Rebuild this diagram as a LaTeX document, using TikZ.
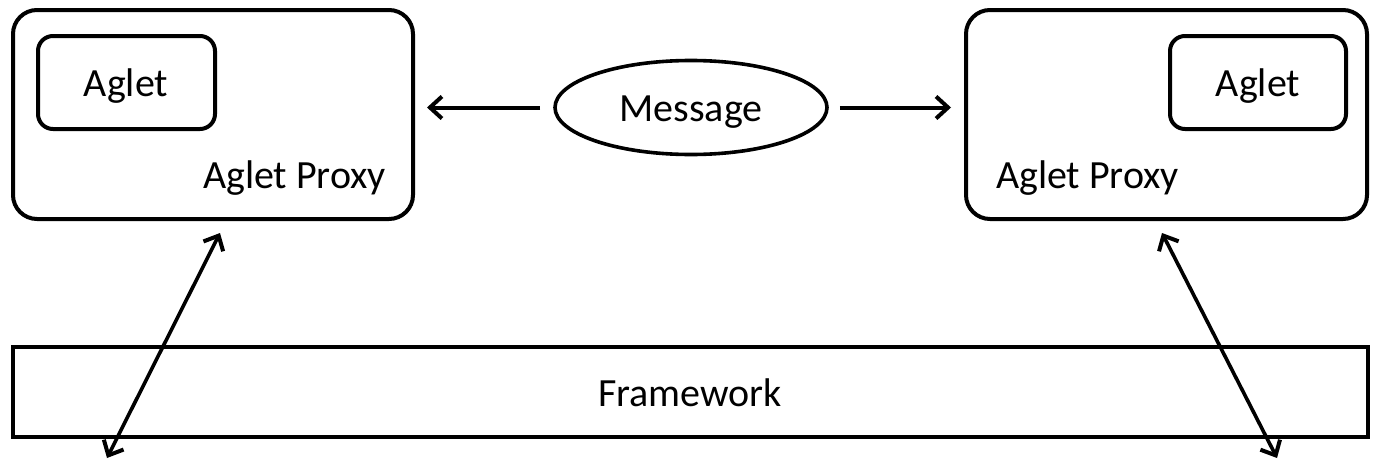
\documentclass[tikz,border=0pt]{standalone}
\usepackage{fontspec}
\setmainfont{Carlito}
\usetikzlibrary{arrows.meta,shapes.geometric}
\begin{document}
\begin{tikzpicture}[x=1pt,y=-1pt,
  box/.style={draw,line width=4pt,rounded corners=24pt,inner sep=0pt},
  inbox/.style={draw,line width=4pt,rounded corners=15pt,inner sep=0pt},
  txt/.style={anchor=base,inner sep=0pt,font=\fontsize{40}{48}\selectfont},
  tip/.tip={Straight Barb[length=12pt,width=22pt,line width=4pt]},
  arr/.style={line width=4pt,-tip},
  darr/.style={line width=3.6pt,tip-tip}]
\useasboundingbox (0,0) rectangle (1376,463);
\fill[white] (0,0) rectangle (1376,463);
% proxies
\node[box,minimum width=400pt,minimum height=209pt] (lproxy) at (213,114.5) {};
\node[box,minimum width=401pt,minimum height=209pt] (rproxy) at (1166.5,114.5) {};
\node[inbox,minimum width=177pt,minimum height=93pt] (laglet) at (126.5,82.5) {};
\node[inbox,minimum width=176pt,minimum height=93pt] (raglet) at (1258,82.5) {};
\node[txt] (lagt) at (126,96) {Aglet};
\node[txt] (ragt) at (1258,96) {Aglet};
\node[txt] (lpt) at (294.5,188) {Aglet Proxy};
\node[txt] (rpt) at (1087.5,188) {Aglet Proxy};
% message
\node[draw,ellipse,line width=3.6pt,minimum width=272pt,minimum height=94pt,inner sep=0pt] (msg) at (691,107.5) {};
\node[txt] (msgt) at (691,121) {Message};
\draw[arr,shorten <=13pt,shorten >=12pt] (msg.west) -- (msg.west -| lproxy.east);
\draw[arr,shorten <=11pt,shorten >=13pt] (msg.east) -- (msg.east -| rproxy.west);
% framework
\node[draw,line width=4.4pt,minimum width=1355pt,minimum height=90pt,inner sep=0pt] (fw) at (690.5,392) {};
\node[txt] (fwt) at (690,406) {Framework};
% diagonal arrows
\coordinate (la1) at (220,233);
\coordinate (la2) at (107,458);
\coordinate (ra1) at (1162,233);
\coordinate (ra2) at (1277,458);
\draw[darr] (la1) -- (la2);
\draw[darr] (ra1) -- (ra2);
\end{tikzpicture}
\end{document}
